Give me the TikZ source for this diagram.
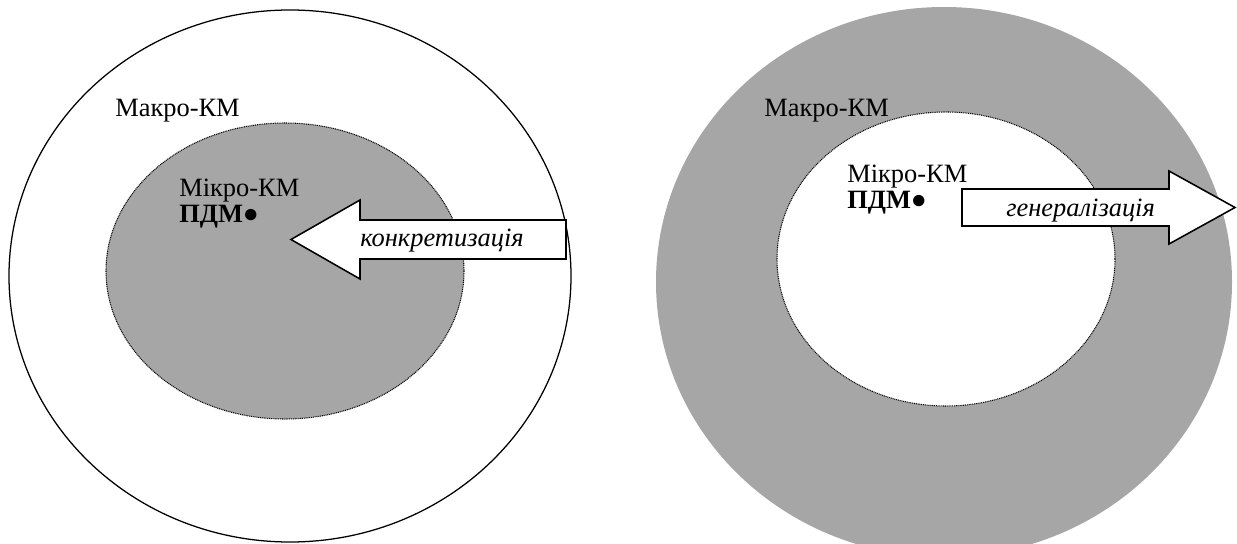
\documentclass[tikz,border=0pt]{standalone}
\usepackage{fontspec}
\setmainfont{Liberation Serif}
\definecolor{zonegray}{RGB}{166,166,166}
\begin{document}
\begin{tikzpicture}[x=0.025cm, y=-0.025cm,
  lbl/.style={inner sep=0pt, anchor=base west, font=\fontsize{18.8}{21}\selectfont},
  arrowbox/.style={draw, fill=white, line width=1.1pt, line join=miter},
  dotline/.style={line width=0.75pt, dash pattern=on 0.7pt off 0.6pt}]
\useasboundingbox (0,0) rectangle (1237,544);
% left: concretisation
\draw[line width=0.9pt] (290,276) ellipse [x radius=281, y radius=266];
\fill[zonegray] (285,271) ellipse [x radius=179, y radius=148];
\draw[dotline] (285,271) ellipse [x radius=179, y radius=148];
\node[lbl] (macroL) at (115,117) {Макро-КМ};
\node[lbl] (microL) at (179,197) {Мікро-КМ};
\node[lbl] (pdmL) at (179,223) {\textbf{ПДМ}●};
\draw[arrowbox] (566,220) -- (360,220) -- (360,200) -- (291,239.5)
  -- (360,279) -- (360,259) -- (566,259) -- cycle;
\node[lbl, font=\fontsize{18.8}{21}\selectfont\itshape] (concrL) at (360,247) {конкретизація};
% right: generalisation
\fill[zonegray] (944,282) ellipse [x radius=288, y radius=275];
\fill[white] (946,259) ellipse [x radius=169, y radius=147];
\draw[dotline] (946,259) ellipse [x radius=169, y radius=147];
\node[lbl] (macroR) at (764,117) {Макро-КМ};
\node[lbl] (microR) at (847,183) {Мікро-КМ};
\node[lbl] (pdmR) at (847,209) {\textbf{ПДМ}●};
\draw[arrowbox] (962,189) -- (1169,189) -- (1169,171) -- (1235,207.5)
  -- (1169,244) -- (1169,226) -- (962,226) -- cycle;
\node[lbl, font=\fontsize{18.8}{21}\selectfont\itshape] (generR) at (1006,217) {генералізація};
\end{tikzpicture}
\end{document}
